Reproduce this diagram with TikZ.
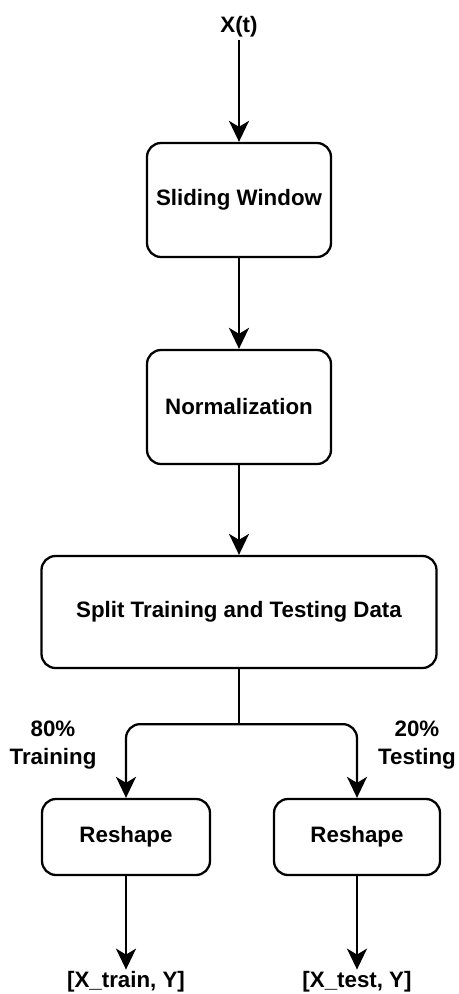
\documentclass[tikz,border=0pt]{standalone}
\usepackage{fontspec}
\setmainfont{Liberation Sans}
\usepackage{tikz}
\usetikzlibrary{arrows.meta,positioning,calc}
\newcommand{\flowfont}{\fontsize{12.7}{15.5}\selectfont\bfseries}
\tikzset{
  stepbox/.style={draw,line width=1.3pt,rounded corners=8pt,font=\flowfont,align=center},
  flow/.style={line width=1.3pt,-{Stealth[length=4.2mm,width=4mm,inset=1.2mm]}},
  lbl/.style={font=\flowfont,align=center,inner sep=1pt}
}

\begin{document}
\begin{tikzpicture}[x=0.02cm,y=-0.02cm]
  \useasboundingbox (0,0) rectangle (458,994);
  \node[lbl] (xin) at (239,27) {X(t)};
  \node[stepbox,minimum width=184*0.02cm,minimum height=114*0.02cm] (slide) at (239,200) {Sliding Window};
  \node[stepbox,minimum width=184*0.02cm,minimum height=114*0.02cm] (norm) at (239,407) {Normalization};
  \node[stepbox,minimum width=395*0.02cm,minimum height=112*0.02cm] (split) at (239,612) {Split Training and Testing Data};
  \node[stepbox,minimum width=168*0.02cm,minimum height=76*0.02cm] (reshL) at (126,837) {Reshape};
  \node[stepbox,minimum width=166*0.02cm,minimum height=76*0.02cm] (reshR) at (357,837) {Reshape};
  \node[lbl] (outL) at (126,982) {[X\_train, Y]};
  \node[lbl] (outR) at (357,982) {[X\_test, Y]};
  \node[lbl] (pctL) at (53,745) {80\%\\Training};
  \node[lbl] (pctR) at (417,745) {20\%\\Testing};
  % main chain
  \draw[flow] ($(xin.south)+(0,0.35)$) -- (slide.north);
  \draw[flow] (slide) -- (norm);
  \draw[flow] (norm) -- (split);
  % split into two branches
  \coordinate (fork) at ($(split.south)+(0,55)$);
  \draw[line width=1.3pt] (split.south) -- (fork);
  \draw[flow,rounded corners=8pt] (fork) -| (reshL.north);
  \draw[flow,rounded corners=8pt] (fork) -| (reshR.north);
  \draw[flow] (reshL) -- ($(outL.north)+(0,0.1)$);
  \draw[flow] (reshR) -- ($(outR.north)+(0,0.1)$);
\end{tikzpicture}
\end{document}
